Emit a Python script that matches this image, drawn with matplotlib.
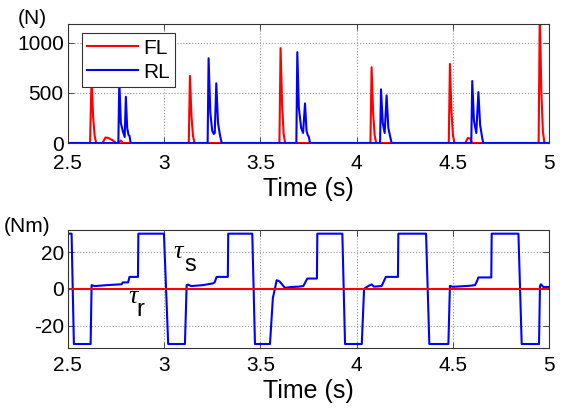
import matplotlib
matplotlib.use("Agg")
import matplotlib.pyplot as plt

plt.rcParams['font.family'] = ['Liberation Sans', 'DejaVu Sans']
plt.rcParams['axes.unicode_minus'] = False

# ground reaction forces (N)
fl_t = [2.5, 2.615, 2.623, 2.631, 2.639, 2.647, 2.68, 2.695, 2.71, 2.73, 2.75,
        2.765, 2.775, 2.785,
        3.128, 3.134, 3.142, 3.150, 3.158,
        3.599, 3.605, 3.613, 3.621, 3.629,
        4.072, 4.078, 4.086, 4.094, 4.102,
        4.479, 4.485, 4.493, 4.501, 4.509, 4.565, 4.578, 4.59, 4.60,
        4.946, 4.952, 4.960, 4.968, 4.976, 5.0]
fl_f = [0, 0, 650, 260, 70, 0, 0, 55, 50, 30, 0,
        0, 25, 0,
        0, 667, 270, 70, 0,
        0, 944, 380, 90, 0,
        0, 754, 300, 75, 0,
        0, 787, 310, 75, 0, 0, 50, 45, 0,
        0, 1300, 520, 120, 0, 0]

rl_t = [2.5, 2.762, 2.767, 2.775, 2.785, 2.795, 2.801, 2.808, 2.815, 2.82, 2.826,
        3.226, 3.231, 3.240, 3.250, 3.258, 3.263, 3.271, 3.280, 3.290, 3.299,
        3.687, 3.692, 3.700, 3.712, 3.722, 3.732, 3.740, 3.746, 3.752, 3.758,
        4.122, 4.127, 4.136, 4.146, 4.156, 4.165, 4.175, 4.182,
        4.596, 4.601, 4.610, 4.622, 4.633, 4.642, 4.652, 4.658, 5.0]
rl_f = [0, 0, 620, 200, 120, 60, 460, 150, 80, 70, 0,
        0, 844, 300, 120, 90, 100, 594, 200, 80, 0,
        0, 904, 350, 150, 100, 394, 120, 80, 60, 0,
        0, 534, 200, 100, 474, 150, 60, 0,
        0, 617, 220, 100, 507, 180, 60, 0, 0]

# joint torques (Nm)
tau_t = [2.5, 2.519, 2.531, 2.618, 2.623, 2.64, 2.70, 2.779, 2.785, 2.813, 2.82, 2.864, 2.866,
         2.999, 3.021, 3.108, 3.117, 3.125, 3.14, 3.20, 3.255, 3.262, 3.273, 3.331, 3.333,
         3.458, 3.472, 3.550, 3.565, 3.585, 3.60, 3.628, 3.66, 3.70, 3.723, 3.744, 3.794, 3.796,
         3.926, 3.940, 4.027, 4.039, 4.06, 4.078, 4.09, 4.13, 4.139, 4.152, 4.215, 4.217,
         4.361, 4.378, 4.477, 4.485, 4.50, 4.58, 4.615, 4.625, 4.633, 4.700, 4.702,
         4.841, 4.858, 4.948, 4.953, 4.958, 4.97, 5.0]
tau_s = [30, 30, -30, -30, 2, 1.5, 2.0, 2.5, 3.5, 3.5, 6.5, 6.5, 30,
         30, -30, -30, 2, 2.3, 1.5, 2.0, 3.0, 3.5, 6.5, 6.5, 30,
         30, -30, -30, -5, 4.7, 4.0, 0.5, 1.0, 1.2, 1.5, 5.6, 5.6, 30,
         30, -30, -30, 0, 1.5, 2.4, 1.2, 1.5, 3.5, 6.5, 6.5, 30,
         30, -30, -30, 1.6, 1.1, 1.6, 2.0, 4.0, 6.2, 6.2, 30,
         30, -30, -30, 1.5, 2.5, 1.0, 1.0]
tau_r_t = [2.5, 5.0]
tau_r = [0, 0]

x_ticks = [2.5, 3, 3.5, 4, 4.5, 5]
x_labels = ['2.5', '3', '3.5', '4', '4.5', '5']

fig = plt.figure(figsize=(5.66, 4.15), dpi=100)
ax1 = fig.add_axes([0.120, 0.6554, 0.850, 0.2857])
ax2 = fig.add_axes([0.120, 0.1622, 0.850, 0.2836])

ax1.plot(fl_t, fl_f, color='#ff0000', lw=1.5, label='FL')
ax1.plot(rl_t, rl_f, color='#0000ff', lw=1.5, label='RL')
ax1.set_ylim(0, 1180)
ax1.set_yticks([0, 500, 1000])
leg = ax1.legend(loc='upper left', bbox_to_anchor=(0.029, 0.925), fontsize=15,
                 handlelength=2.45, fancybox=False, framealpha=1,
                 edgecolor='#333333', borderpad=0.25, labelspacing=0.25,
                 handletextpad=0.25, borderaxespad=0)
leg.get_frame().set_linewidth(0.8)
ax1.text(-0.075, 0.97, '(N)', transform=ax1.transAxes, fontsize=15,
         ha='center', va='bottom')

ax2.plot(tau_t, tau_s, color='#0000ff', lw=1.5)
ax2.plot(tau_r_t, tau_r, color='#ff0000', lw=1.5)
ax2.set_ylim(-32, 32)
ax2.set_yticks([-20, 0, 20])
ax2.text(-0.085, 1.03, '(Nm)', transform=ax2.transAxes, fontsize=15,
         ha='center', va='center')
ax2.text(3.072, 20, 'τ', family='Liberation Serif', style='italic',
         fontsize=19, ha='center', va='center')
ax2.text(3.134, 12.8, 's', fontsize=17, ha='center', va='center')
ax2.text(2.838, -4.5, 'τ', family='Liberation Serif', style='italic',
         fontsize=19, ha='center', va='center')
ax2.text(2.874, -11.5, 'r', fontsize=17, ha='center', va='center')

for ax, xpad in ((ax1, 8), (ax2, 6)):
    ax.set_xlim(2.5, 5)
    ax.set_xticks(x_ticks)
    ax.set_xticklabels(x_labels)
    ax.set_xlabel('Time (s)', fontsize=18, labelpad=3)
    ax.tick_params(direction='in', labelsize=15, length=4, width=0.6,
                   color='#333333', top=True, right=True)
    ax.tick_params(axis='x', pad=xpad)
    ax.tick_params(axis='y', pad=3)
    ax.grid(True, linestyle=':', color='#999999', linewidth=0.8)
    for sp in ax.spines.values():
        sp.set_color('#333333')
        sp.set_linewidth(0.8)

fig.savefig('out.png', dpi=100)
